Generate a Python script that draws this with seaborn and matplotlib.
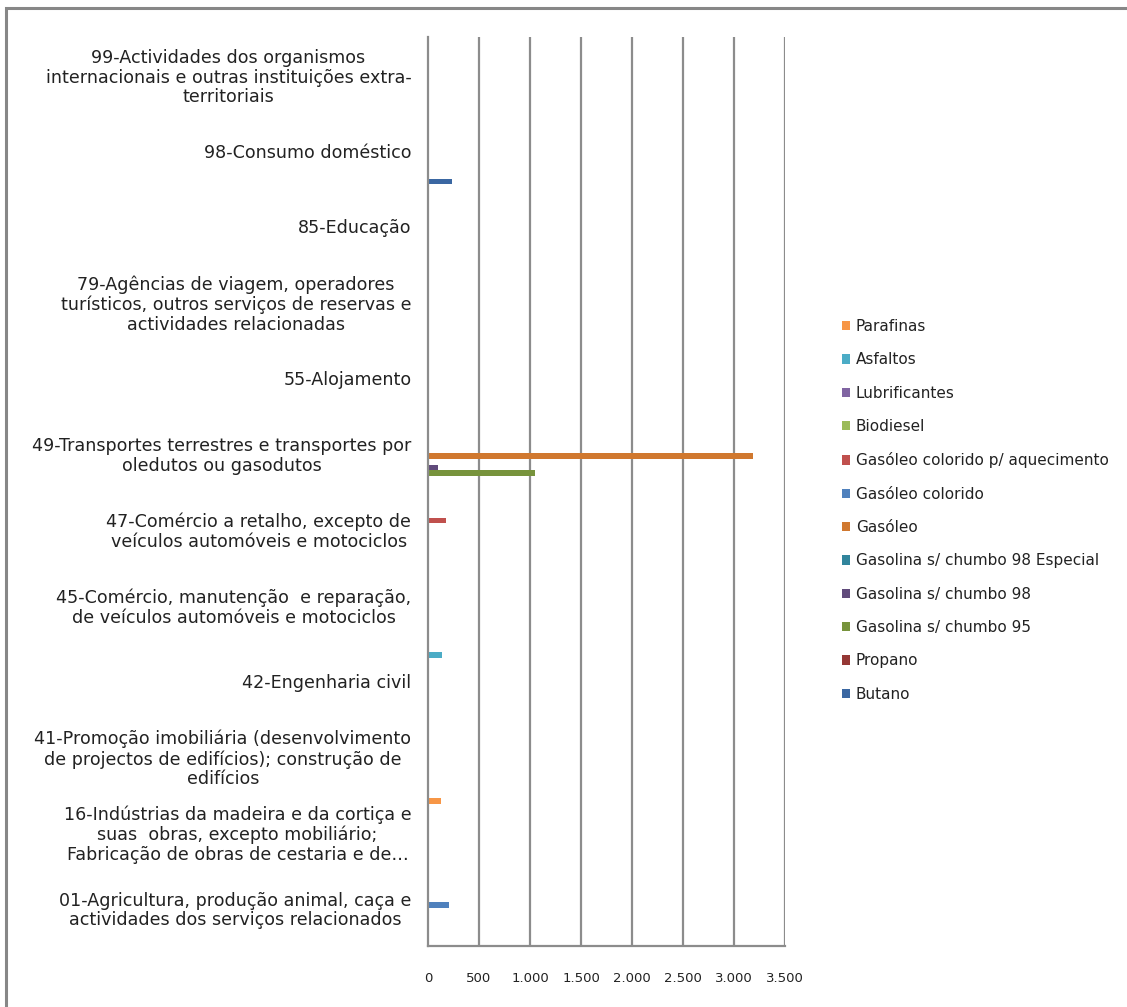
import matplotlib
matplotlib.use("Agg")
import matplotlib.pyplot as plt
from matplotlib.patches import Rectangle
from matplotlib.ticker import FuncFormatter, FixedLocator
import seaborn as sns
import pandas as pd
import numpy as np

# Economic activity sectors (top to bottom)
categories = [
    "99-Actividades dos organismos\ninternacionais e outras instituições extra-\nterritoriais",
    "98-Consumo doméstico",
    "85-Educação",
    "79-Agências de viagem, operadores\nturísticos, outros serviços de reservas e\nactividades relacionadas",
    "55-Alojamento",
    "49-Transportes terrestres e transportes por\noledutos ou gasodutos",
    "47-Comércio a retalho, excepto de\nveículos automóveis e motociclos",
    "45-Comércio, manutenção  e reparação,\nde veículos automóveis e motociclos",
    "42-Engenharia civil",
    "41-Promoção imobiliária (desenvolvimento\nde projectos de edifícios); construção de\nedifícios",
    "16-Indústrias da madeira e da cortiça e\nsuas  obras, excepto mobiliário;\nFabricação de obras de cestaria e de…",
    "01-Agricultura, produção animal, caça e\nactividades dos serviços relacionados",
]

# Fuel products (legend order, top to bottom)
products = [
    "Parafinas", "Asfaltos", "Lubrificantes", "Biodiesel",
    "Gasóleo colorido p/ aquecimento", "Gasóleo colorido", "Gasóleo",
    "Gasolina s/ chumbo 98 Especial", "Gasolina s/ chumbo 98",
    "Gasolina s/ chumbo 95", "Propano", "Butano",
]

# Consumption per product, one value per sector (same order as categories)
parafinas =        [0, 0, 0, 0, 0, 0, 0, 0, 0, 0, 125, 0]
asfaltos =         [0, 0, 0, 0, 0, 0, 0, 0, 135, 0, 0, 0]
lubrificantes =    [0, 0, 0, 0, 0, 0, 0, 0, 0, 0, 0, 0]
biodiesel =        [0, 0, 0, 0, 0, 0, 0, 0, 0, 0, 0, 0]
gasoleo_col_aq =   [0, 0, 0, 0, 0, 0, 175, 0, 0, 0, 0, 0]
gasoleo_colorido = [0, 0, 0, 0, 0, 0, 0, 0, 0, 0, 0, 210]
gasoleo =          [0, 0, 0, 0, 0, 3190, 0, 0, 0, 0, 0, 0]
gasolina_98_esp =  [0, 0, 0, 0, 0, 0, 0, 0, 0, 0, 0, 0]
gasolina_98 =      [0, 0, 0, 0, 0, 100, 0, 0, 0, 0, 0, 0]
gasolina_95 =      [0, 0, 0, 0, 0, 1050, 0, 0, 0, 0, 0, 0]
propano =          [0, 0, 0, 0, 0, 0, 0, 0, 0, 0, 0, 0]
butano =           [0, 235, 0, 0, 0, 0, 0, 0, 0, 0, 0, 0]

series_values = [parafinas, asfaltos, lubrificantes, biodiesel, gasoleo_col_aq,
                 gasoleo_colorido, gasoleo, gasolina_98_esp, gasolina_98,
                 gasolina_95, propano, butano]

xticks = [0, 500, 1000, 1500, 2000, 2500, 3000, 3500]

colors = ["#F79646", "#4BACC6", "#8064A2", "#9BBB59", "#C0504D", "#4F81BD",
          "#D0782F", "#31859C", "#604A7B", "#77933C", "#953735", "#3A67A2"]

rows = []
for prod, vals in zip(products, series_values):
    for cat, v in zip(categories, vals):
        rows.append({"sector": cat, "produto": prod, "valor": v})
df = pd.DataFrame(rows)

sns.set_theme(style="white")
plt.rcParams["font.family"] = ["DejaVu Sans"]

fig = plt.figure(figsize=(11.27, 10.07), dpi=100)
W, H = 1127, 1007
ax = fig.add_axes([428 / W, 1 - 945.5 / H, (785 - 428) / W, (945.5 - 37) / H])

sns.barplot(data=df, y="sector", x="valor", hue="produto",
            order=categories, hue_order=products, palette=colors,
            orient="h", errorbar=None, width=12 / 13.5, linewidth=0,
            saturation=1, ax=ax)

ax.set_xlim(0, 3500)
ax.set_ylim(len(categories) - 0.5, -0.5)
ax.set_xlabel("")
ax.set_ylabel("")

grid_c = "#8C8C8C"
ax.xaxis.set_major_locator(FixedLocator(xticks))
ax.xaxis.set_major_formatter(FuncFormatter(lambda v, p: f"{int(v):,}".replace(",", ".")))
for v in xticks[1:]:
    ax.axvline(v, color=grid_c, lw=1.6, zorder=0)

for s in ["top", "right"]:
    ax.spines[s].set_visible(False)
for s in ["left", "bottom"]:
    ax.spines[s].set_color(grid_c)
    ax.spines[s].set_linewidth(1.6)

ax.tick_params(axis="x", which="major", direction="out", length=6, width=1.4,
               color=grid_c, labelsize=9.5, pad=13, labelcolor="#222222")
ax.set_yticks(np.arange(len(categories)))
ax.set_yticklabels(categories, fontsize=12.6, color="#222222",
                   multialignment="center", linespacing=1.12)
ax.tick_params(axis="y", which="major", length=0, pad=12)
ax.set_yticks(np.arange(len(categories) + 1) - 0.5, minor=True)
ax.tick_params(axis="y", which="minor", direction="out", length=6, width=1.4,
               color=grid_c)

handles, labels = ax.get_legend_handles_labels()
ax.legend_.remove()
fig.legend(handles, labels, loc="center left", bbox_to_anchor=(842 / W, 1 - 510.5 / H),
           frameon=False, fontsize=11, handlelength=0.55, handleheight=0.55,
           handletextpad=0.35, labelspacing=1.2, borderpad=0, borderaxespad=0,
           labelcolor="#222222")

# outer chart frame
fig.patches.append(Rectangle((6 / W, -0.05), 1.2, 1 - 8 / H + 0.05,
                             transform=fig.transFigure, fill=False,
                             edgecolor="#878787", linewidth=2.2))

fig.savefig("out.png", dpi=100)
